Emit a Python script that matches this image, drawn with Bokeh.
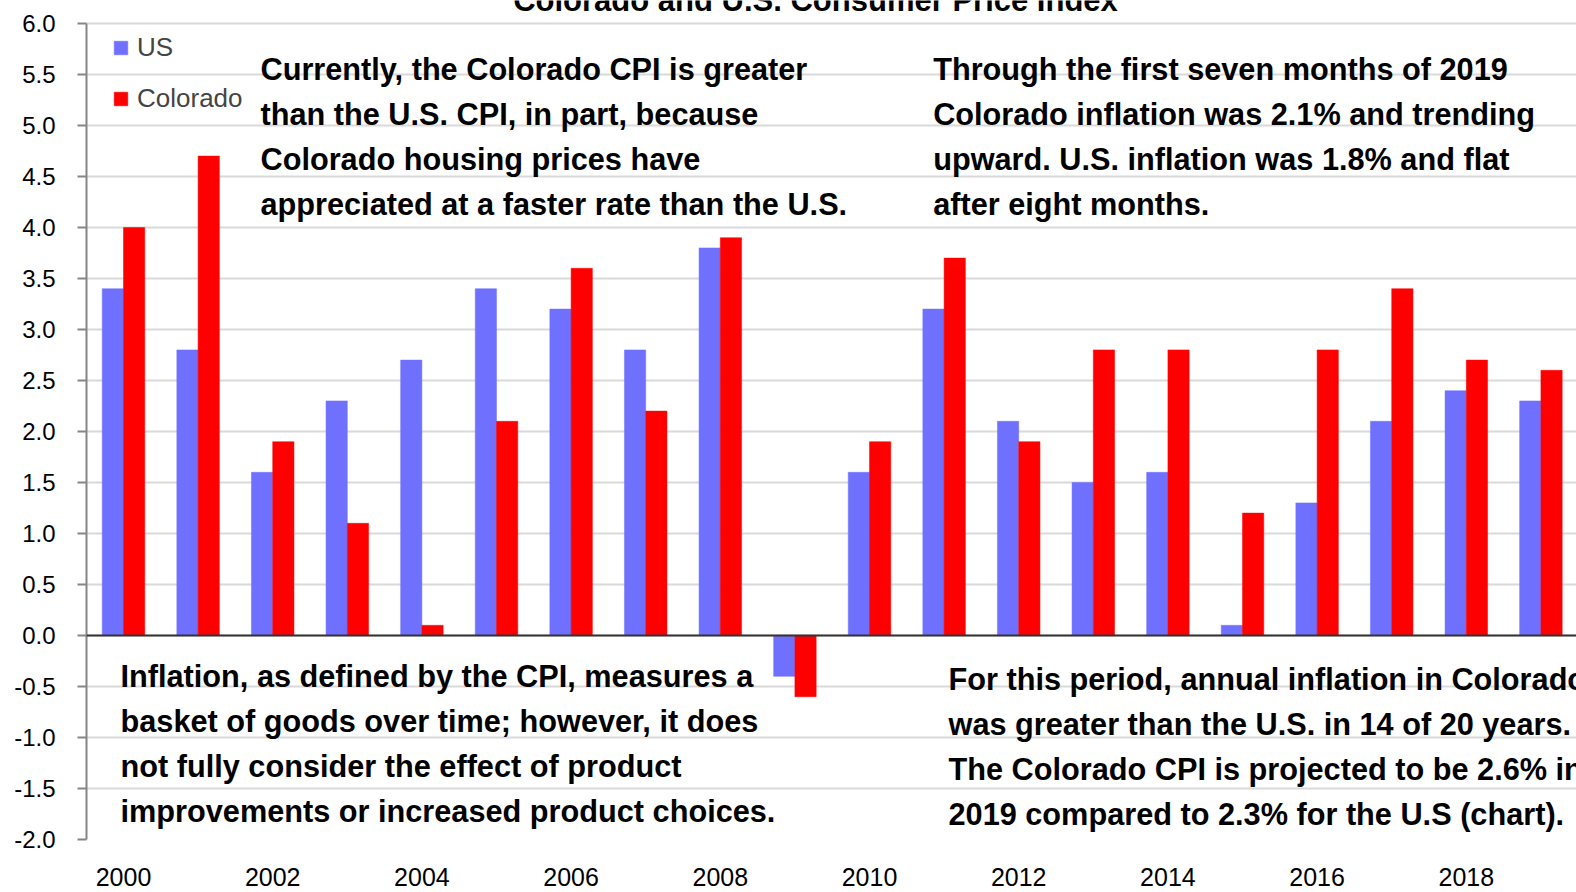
from bokeh.plotting import figure
from bokeh.models import Span, FixedTicker, PrintfTickFormatter, Label, Legend, LegendItem
from bokeh.embed import file_html
from bokeh.resources import INLINE

# ---------------- data ----------------
years = [2000, 2001, 2002, 2003, 2004, 2005, 2006, 2007, 2008, 2009,
         2010, 2011, 2012, 2013, 2014, 2015, 2016, 2017, 2018, 2019]
us = [3.4, 2.8, 1.6, 2.3, 2.7, 3.4, 3.2, 2.8, 3.8, -0.4,
      1.6, 3.2, 2.1, 1.5, 1.6, 0.1, 1.3, 2.1, 2.4, 2.3]
colorado = [4.0, 4.7, 1.9, 1.1, 0.1, 2.1, 3.6, 2.2, 3.9, -0.6,
            1.9, 3.7, 1.9, 2.8, 2.8, 1.2, 2.8, 3.4, 2.7, 2.6]
y_ticks = [-2.0, -1.5, -1.0, -0.5, 0.0, 0.5, 1.0, 1.5, 2.0, 2.5,
           3.0, 3.5, 4.0, 4.5, 5.0, 5.5, 6.0]
x_ticks = [2000, 2002, 2004, 2006, 2008, 2010, 2012, 2014, 2016, 2018]

title_text = "Colorado and U.S. Consumer Price Index"
note_top_left = ["Currently, the Colorado CPI is greater",
                 "than the U.S. CPI, in part, because",
                 "Colorado housing prices have",
                 "appreciated at a faster rate than the U.S."]
note_top_right = ["Through the first seven months of 2019",
                  "Colorado inflation was 2.1% and trending",
                  "upward. U.S. inflation was 1.8% and flat",
                  "after eight months."]
note_bottom_left = ["Inflation, as defined by the CPI, measures a",
                    "basket of goods over time; however, it does",
                    "not fully consider the effect of product",
                    "improvements or increased product choices."]
note_bottom_right = ["For this period, annual inflation in Colorado",
                     "was greater than the U.S. in 14 of 20 years.",
                     "The Colorado CPI is projected to be 2.6% in",
                     "2019 compared to 2.3% for the U.S (chart)."]

# ---------------- styling ----------------
FONT = "Liberation Sans"
US_COLOR = "#7070FF"
CO_COLOR = "#FF0000"
BAR_W = 0.285
OFF = 0.1425
PX = 1.0 / 102.0          # data units per pixel (vertical)
TOP = 6.0 + 23 * PX       # frame reaches the canvas top so the cut title shows

p = figure(width=1576, height=892, output_backend="svg", toolbar_location=None,
           x_range=(1999.504, 2019.477), y_range=(-2.0, TOP),
           min_border_left=86, min_border_right=0, min_border_top=0,
           min_border_bottom=53)
p.outline_line_color = None
p.background_fill_color = "white"

r_us = p.vbar(x=[y - OFF for y in years], top=us, width=BAR_W, bottom=0,
              fill_color=US_COLOR, line_color=US_COLOR, line_width=0.5)
r_co = p.vbar(x=[y + OFF for y in years], top=colorado, width=BAR_W, bottom=0,
              fill_color=CO_COLOR, line_color=CO_COLOR, line_width=0.5)

# axes
p.yaxis.ticker = FixedTicker(ticks=y_ticks)
p.yaxis.bounds = (-2.0, 6.0)
p.yaxis.formatter = PrintfTickFormatter(format="%.1f")
p.yaxis.axis_line_color = "#868686"
p.yaxis.axis_line_width = 2
p.yaxis.major_tick_line_color = "#868686"
p.yaxis.major_tick_line_width = 2
p.yaxis.major_tick_out = 9
p.yaxis.major_tick_in = 0
p.yaxis.minor_tick_line_color = None
p.yaxis.major_label_standoff = 22
p.yaxis.major_label_text_font = FONT
p.yaxis.major_label_text_font_size = "24px"
p.yaxis.major_label_text_color = "black"

p.xaxis.ticker = FixedTicker(ticks=x_ticks)
p.xaxis.axis_line_color = None
p.xaxis.major_tick_line_color = None
p.xaxis.minor_tick_line_color = None
p.xaxis.major_label_standoff = 22
p.xaxis.major_label_text_font = FONT
p.xaxis.major_label_text_font_size = "25px"
p.xaxis.major_label_text_color = "black"

p.xgrid.grid_line_color = None
p.ygrid.ticker = FixedTicker(ticks=y_ticks)
p.ygrid.grid_line_color = "#d9d9d9"
p.ygrid.grid_line_width = 2

p.add_layout(Span(location=0, dimension="width", line_color="#333333", line_width=2))

# legend
legend = Legend(items=[LegendItem(label="US", renderers=[r_us]),
                       LegendItem(label="Colorado", renderers=[r_co])],
                location=(26, 725))
legend.glyph_width = 17
legend.glyph_height = 17
legend.label_standoff = 8
legend.label_text_font = FONT
legend.label_text_font_size = "26px"
legend.label_height = 17
legend.spacing = 20
legend.padding = 0
legend.margin = 0
legend.border_line_color = None
legend.background_fill_alpha = 0
p.add_layout(legend)

# title (cut at the top edge as in the reference)
p.add_layout(Label(x=2009.276, y=TOP, text=title_text, text_align="center",
                   text_baseline="middle", text_font=FONT, text_font_style="bold",
                   text_font_size="31px", text_color="black"))

LINE = 45 * PX
SHIFT = 12 * PX


def add_block(lines, x0, y0):
    for i, t in enumerate(lines):
        p.add_layout(Label(x=x0, y=y0 - i * LINE + SHIFT, text=t, text_align="left",
                           text_baseline="alphabetic", text_font=FONT,
                           text_font_style="bold", text_font_size="30.7px",
                           text_color="black"))


add_block(note_top_left, 2001.836, (635 - 81) * PX)
add_block(note_top_right, 2010.853, (635 - 81) * PX)
add_block(note_bottom_left, 1999.96, (635 - 688) * PX)
add_block(note_bottom_right, 2011.059, (635 - 691) * PX)

open("out.html", "w").write(file_html(p, INLINE))
